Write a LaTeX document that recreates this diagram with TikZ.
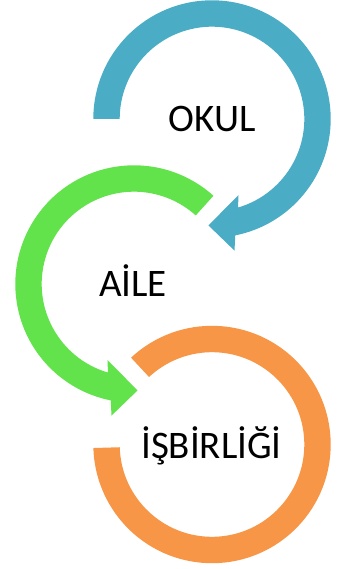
\documentclass[tikz,border=0pt]{standalone}
\usepackage{fontspec}
\setmainfont{Carlito}
\definecolor{cblue}{HTML}{4BACC6}
\definecolor{cgreen}{HTML}{62E24B}
\definecolor{corange}{HTML}{F79646}
\begin{document}
\begin{tikzpicture}[x=1pt,y=1pt,
  lbl/.style={font=\fontsize{39}{39}\selectfont, inner sep=0pt, anchor=base, text=black}]
\useasboundingbox (0,0) rectangle (352,-569);
\coordinate (c1) at (212,-119);
\coordinate (c2) at (134,-284);
\coordinate (c3) at (212,-444.5);
% blue arrow
\begin{scope}[shift={(c1)}]
\fill[cblue] (180:118.7) arc[start angle=180, end angle=-78.7, radius=118.7]
  -- (-80.3:133.5) -- (-91.9:106.5) -- (-70.8:80.5) -- (-73.6:92.3)
  arc[start angle=-73.6, end angle=180, radius=92.3] -- cycle;
\end{scope}
% green arrow
\begin{scope}[shift={(c2)}]
\fill[cgreen] (48:118.7) arc[start angle=48, end angle=258.7, radius=118.7]
  -- (260.3:133.5) -- (271.9:106.5) -- (250.8:80.5) -- (253.6:92.3)
  arc[start angle=253.6, end angle=48, radius=92.3] -- cycle;
\end{scope}
% orange ring
\begin{scope}[shift={(c3)}]
\fill[corange] (133:118.7) arc[start angle=133, end angle=-178.3, radius=118.7]
  -- (-178.3:92.3) arc[start angle=-178.3, end angle=133, radius=92.3] -- cycle;
\end{scope}
\node[lbl] (okul) at (212,-131.7) {OKUL};
\node[lbl] (aile) at (133,-296.7) {AİLE};
\node[lbl] (isbirligi) at (211.5,-458.3) {İŞBİRLİĞİ};
\end{tikzpicture}
\end{document}
